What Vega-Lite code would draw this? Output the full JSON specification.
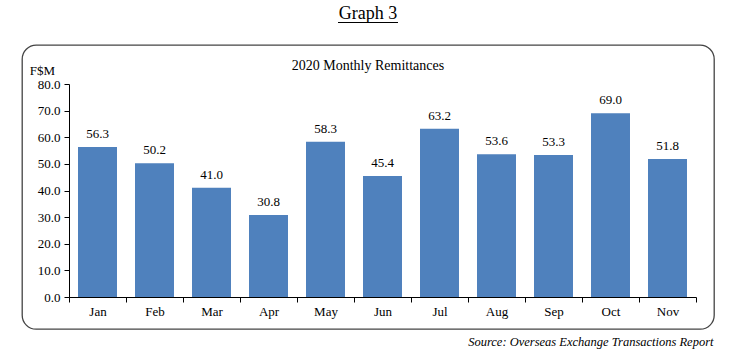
{
  "$schema": "https://vega.github.io/schema/vega-lite/v6.json",
  "padding": {"left": 21, "top": 4, "right": 0, "bottom": 0},
  "background": "white",
  "config": {"font": "Liberation Serif", "view": {"stroke": null}},
  "spacing": 22,
  "center": true,
  "bounds": "flush",
  "vconcat": [
    {
      "width": 60,
      "height": 1,
      "view": {"stroke": null, "fill": "#000000"},
      "data": {"values": [{"label": "Graph 3"}]},
      "mark": {"type": "text", "baseline": "alphabetic", "dy": -4, "fontSize": 18, "font": "Liberation Serif", "color": "#000000"},
      "encoding": {"text": {"field": "label"}}
    },
    {
      "width": 692,
      "height": 284,
      "view": {"stroke": "#444444", "strokeWidth": 1.3, "cornerRadius": 14},
      "title": {"text": "2020 Monthly Remittances", "offset": -28, "fontSize": 14, "fontWeight": "normal", "font": "Liberation Serif", "anchor": "middle", "color": "#000000"},
      "data": {"values": [
        {"month": "Jan", "value": 56.3},
        {"month": "Feb", "value": 50.2},
        {"month": "Mar", "value": 41.0},
        {"month": "Apr", "value": 30.8},
        {"month": "May", "value": 58.3},
        {"month": "Jun", "value": 45.4},
        {"month": "Jul", "value": 63.2},
        {"month": "Aug", "value": 53.6},
        {"month": "Sep", "value": 53.3},
        {"month": "Oct", "value": 69.0},
        {"month": "Nov", "value": 51.8}
      ]},
      "encoding": {
        "x": {
          "field": "month", "type": "nominal", "sort": null,
          "scale": {"range": [47, 674], "paddingInner": 0, "paddingOuter": 0},
          "axis": {
            "title": "Source: Overseas Exchange Transactions Report",
            "titleFontStyle": "italic", "titleFontWeight": "normal", "titleFontSize": 12.5,
            "titleX": 691, "titleY": 48, "titleAlign": "right", "titleBaseline": "alphabetic",
            "titleColor": "#000000",
            "labelAngle": 0, "labelFontSize": 13, "labelPadding": 3, "labelColor": "#000000",
            "tickBand": "extent", "tickSize": 5, "tickColor": "#000000",
            "domainColor": "#000000", "offset": -32, "grid": false
          }
        },
        "y": {
          "field": "value", "type": "quantitative",
          "scale": {"domain": [0, 80], "range": [252, 39], "nice": false, "zero": true},
          "axis": {
            "title": "F$M", "titleAngle": 0, "titleX": -27, "titleY": 25,
            "titleAlign": "center", "titleBaseline": "middle", "titleFontSize": 13,
            "titleFontWeight": "normal", "titleColor": "#000000",
            "values": [0, 10, 20, 30, 40, 50, 60, 70, 80], "format": ".1f",
            "labelFontSize": 13, "labelColor": "#000000", "labelPadding": 4,
            "tickSize": 5, "tickColor": "#000000", "domainColor": "#000000",
            "grid": false, "offset": -47
          }
        }
      },
      "layer": [
        {"mark": {"type": "bar", "width": {"band": 0.684}, "color": "#4F81BD"}},
        {"mark": {"type": "text", "baseline": "alphabetic", "dy": -9, "fontSize": 13, "color": "#000000"},
         "encoding": {"text": {"field": "value", "type": "quantitative", "format": ".1f"}}}
      ]
    }
  ]
}
